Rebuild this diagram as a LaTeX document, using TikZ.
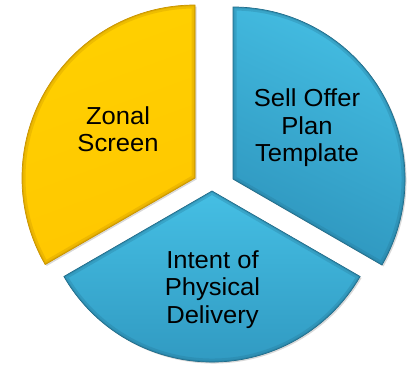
\documentclass[tikz,border=0pt]{standalone}
\usepackage{fontspec}
\setmainfont{Liberation Sans}[FakeStretch=1.04]
\usetikzlibrary{shadows}
\definecolor{yel}{HTML}{FFC700}
\definecolor{yeldark}{HTML}{C99400}
\definecolor{yellight}{HTML}{FFD000}
\definecolor{blu}{HTML}{37ACD2}
\definecolor{bludark}{HTML}{2E95BD}
\definecolor{blulight}{HTML}{45BFE4}
\tikzset{
  lbl/.style={font=\fontsize{24.6}{27.5}\selectfont, align=center, text=black, inner sep=0pt, anchor=base},
  slice/.style={draw=#1, line width=0.7pt, drop shadow={opacity=0.3, shadow xshift=1.5pt, shadow yshift=-1.5pt}},
  bevel/.style={draw=#1, line width=7pt, opacity=0.3},
  bevelthin/.style={draw=#1, line width=2.5pt, opacity=0.4}
}
\def\pathY{(195,190) -- ++(90:173) arc[start angle=90,end angle=210,radius=173] -- cycle}
\def\pathR{(233,189) -- ++(-30:172) arc[start angle=-30,end angle=90,radius=172] -- cycle}
\def\pathB{(212,177) -- ++(210:171) arc[start angle=210,end angle=330,radius=171] -- cycle}
\begin{document}
\begin{tikzpicture}[x=1pt,y=1pt]
\useasboundingbox (0,0) rectangle (409,368);
% yellow slice
\path[slice=yeldark, top color=yellight, bottom color=yel, shading angle=20] \pathY;
\begin{scope}
  \clip \pathY;
  \draw[bevel=yeldark] \pathY;
  \draw[bevelthin=yeldark] \pathY;
\end{scope}
% right slice
\path[slice=bludark!70!black, top color=blulight, bottom color=bludark, shading angle=-25] \pathR;
\begin{scope}
  \clip \pathR;
  \draw[bevel=bludark!80!black] \pathR;
  \draw[bevelthin=bludark!80!black] \pathR;
\end{scope}
% bottom slice
\path[slice=bludark!70!black, top color=blulight, bottom color=bludark] \pathB;
\begin{scope}
  \clip \pathB;
  \draw[bevel=bludark!80!black] \pathB;
  \draw[bevelthin=bludark!80!black] \pathB;
\end{scope}
% labels (base anchor = baseline of last line)
\node[lbl] (zonal) at (118,216.3) {Zonal\\Screen};
\node[lbl] (sell) at (307,206.3) {Sell Offer\\Plan\\Template};
\node[lbl] (intent) at (212.5,44.7) {Intent of\\Physical\\Delivery};
\end{tikzpicture}
\end{document}
